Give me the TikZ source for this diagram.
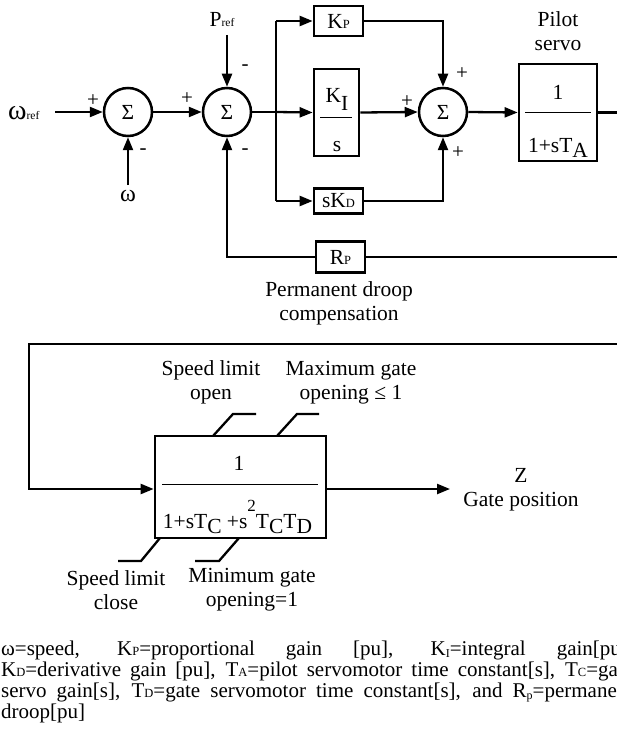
\documentclass[tikz,border=0pt]{standalone}
\usepackage{fontspec}
\setmainfont{Liberation Serif}
\usetikzlibrary{arrows.meta,calc}
\newcommand\ssub[1]{{\fontsize{12.5}{12.5}\selectfont #1}}
\newcommand\csub[1]{\raisebox{-2pt}{\fontsize{12}{12}\selectfont #1}}
\newcommand\rsub[1]{{\fontsize{11.5}{11.5}\selectfont #1}}
\newcommand\bsub[1]{\raisebox{-5pt}{#1}}
\newcommand\bsup[1]{\raisebox{17pt}{\fontsize{17}{17}\selectfont #1}}
\begin{document}
\begin{tikzpicture}[x=1pt,y=-1pt,font=\fontsize{21.5}{24}\selectfont,line width=2.3pt,
  arr/.style={-{Triangle[length=13pt,width=10pt]}},
  sumnode/.style={circle,draw,line width=2.5pt,minimum size=48pt,inner sep=0pt},
  blk/.style={draw,line width=2.7pt,inner sep=0pt},
  sign/.style={font=\fontsize{21}{21}\selectfont,inner sep=0pt},
  lbl/.style={align=center,inner sep=0pt},
  txt/.style={inner sep=0pt},
  captxt/.style={anchor=base west,inner sep=0pt,font=\fontsize{21}{21}\selectfont}]
\useasboundingbox (0,0) rectangle (617,738);
\clip (0,0) rectangle (617,738);
% --- upper part
\node[txt,anchor=base west] (wref) at (7,120) {{\fontsize{28}{28}\selectfont ω}\rsub{ref}};
\node[sumnode] (s1) at (128,112) {Σ};
\node[txt] (w) at (128,196) {{\fontsize{24}{24}\selectfont ω}};
\node[sumnode] (s2) at (227,112) {Σ};
\node[txt] (pref) at (222,20) {P\rsub{ref}};
\coordinate (wstart) at (55,112);
\coordinate (wup) at (128,185);
\coordinate (pstart) at (227,35);
\node[sign] (p1) at (93,101) {+};
\node[sign] (m1) at (143,152) {-};
\node[sign] (p2) at (187,99) {+};
\node[sign] (m2) at (245,68) {-};
\node[sign] (m3) at (245,152) {-};
\node[blk,minimum width=49pt,minimum height=30pt] (kp) at (338.5,21) {K\ssub{P}};
\node[blk,minimum width=45pt,minimum height=87pt] (ki) at (336.5,112.5) {};
\node[txt,anchor=base] (kin) at (337,103) {K\raisebox{-8pt}{I}};
\draw[line width=1pt] (320,118) -- (352,118);
\node[txt,anchor=base] (kid) at (337,152) {s};
\node[blk,minimum width=49pt,minimum height=25pt] (kd) at (338.5,201) {sK\ssub{D}};
\node[sumnode] (s3) at (443,112) {Σ};
\node[sign] (p3) at (462,74) {+};
\node[sign] (p4) at (407,102) {+};
\node[sign] (p5) at (458,153) {+};
\node[blk,minimum width=78pt,minimum height=97pt] (pilot) at (558,112.5) {};
\node[txt,anchor=base] (pn) at (558,100) {1};
\draw[line width=1pt] (525,113) -- (591,113);
\node[txt,anchor=base] (pd) at (558,153) {1+sT\bsub{A}};
\node[lbl] (pilotlbl) at (558,31) {Pilot\\servo};
\node[blk,minimum width=49pt,minimum height=31pt] (rp) at (340.5,257) {R\ssub{P}};
\node[lbl] (rplbl) at (339,303) {Permanent droop\\compensation};
\coordinate (j) at (276,112);
\coordinate (pout) at (630,112.5);
\coordinate (fbr) at (630,257);
% connectors upper
\draw[arr] (wstart) -- (s1.west);
\draw[arr] (wup) -- (s1.south);
\draw[arr] (s1) -- (s2);
\draw[arr] (pstart) -- (s2.north);
\draw (s2.east) -- (j);
\draw[arr] (j) -- (ki.west);
\draw (j |- kp.west) -- (j |- kd.west);
\draw[arr] (j |- kp.west) -- (kp.west);
\draw[arr] (j |- kd.west) -- (kd.west);
\draw[arr] (kp.east) -| (s3.north);
\draw[arr] (kd.east) -| (s3.south);
\draw[arr] (ki.east) -- (s3.west);
\draw[arr] (s3.east) -- (pilot.west);
\draw (pilot.east) -- (pout);
\draw (fbr) -- (rp.east);
\draw[arr] (rp.west) -| (s2.south);
% --- lower part
\coordinate (lr) at (630,344);
\coordinate (ll) at (29,344);
\node[blk,minimum width=171pt,minimum height=102pt] (gate) at (240.5,487) {};
\coordinate (gin) at (29,489);
\node[txt,anchor=base] (gn) at (239,470) {1};
\draw[line width=1pt] (162,484) -- (318,484);
\node[txt,anchor=base] (gd) at (237.5,528) {1+sT\bsub{C} +s\bsup{2}T\bsub{C}T\bsub{D}};
\draw[arr] (lr) -- (ll) -- (gin) -- (gate.west |- gin);
\coordinate (zend) at (450,489);
\draw[arr] (gate.east |- zend) -- (zend);
\node[lbl] (zlbl) at (521,490) {Z\\Gate position};
\draw (213,436) -- (233,414) -- (256,414);
\draw (277,436) -- (297,414) -- (319,414);
\draw (160,538) -- (141,561) -- (118,561);
\draw (239,538) -- (219,561) -- (195,561);
\node[lbl] (slo) at (211,382) {Speed limit\\open};
\node[lbl] (mgo) at (351,383) {Maximum gate\\opening ≤ 1};
\node[lbl] (slc) at (116,590) {Speed limit\\close};
\node[lbl] (mgc) at (252,590) {Minimum gate\\opening=1};
% --- caption
\node[captxt] (c1) at (0,655) {\makebox[632pt][s]{ω=speed, K\ssub{P}=proportional gain [pu], K\csub{I}=integral gain[pu],}};
\node[captxt] (c2) at (0,676) {\makebox[632pt][s]{K\ssub{D}=derivative gain [pu], T\ssub{A}=pilot servomotor time constant[s], T\ssub{C}=gate}};
\node[captxt] (c3) at (0,697) {\makebox[632pt][s]{servo gain[s], T\ssub{D}=gate servomotor time constant[s], and R\csub{p}=permanent}};
\node[captxt] (c4) at (0,718) {droop[pu]};
\end{tikzpicture}
\end{document}
